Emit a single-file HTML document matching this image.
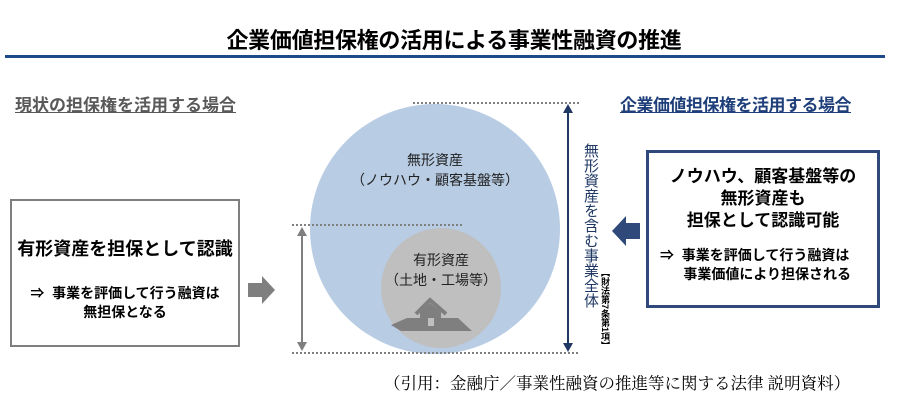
<!DOCTYPE html>
<html><head><meta charset="utf-8"><style>
body{margin:0;width:908px;height:413px;background:#fff;overflow:hidden;position:relative;font-family:"Liberation Sans","Noto Sans CJK JP",sans-serif}
.a{position:absolute;white-space:nowrap}
</style></head><body>
<div class="a" style="left:0;width:908px;top:23px;text-align:center;font-size:22px;font-weight:bold;color:#000;letter-spacing:-0.3px">企業価値担保権の活用による事業性融資の推進</div>
<div class="a" style="left:5px;top:55px;width:880px;height:3px;background:#1f4a8a"></div>
<div class="a" style="left:15px;top:91px;font-size:17px;font-weight:bold;color:#595959;text-decoration:underline">現状の担保権を活用する場合</div>
<div class="a" style="left:620px;top:91px;font-size:17px;font-weight:bold;color:#1f3f7a;text-decoration:underline;letter-spacing:-0.5px">企業価値担保権を活用する場合</div>

<div class="a" style="left:10px;top:199px;width:226px;height:144px;border:2px solid #7f7f7f"></div>
<div class="a" style="left:10px;width:230px;top:235px;text-align:center;font-size:18px;font-weight:bold">有形資産を担保として認識</div>
<div class="a" style="left:10px;width:230px;top:284px;text-align:center;font-size:14px;font-weight:bold;line-height:19px">⇒&nbsp; 事業を評価して行う融資は<br>無担保となる</div>

<div class="a" style="left:646px;top:150px;width:228px;height:152px;border:3px solid #2f4a7a"></div>
<div class="a" style="left:646px;width:234px;top:166px;text-align:center;font-size:17px;font-weight:bold;line-height:22px">ノウハウ、顧客基盤等の<br>無形資産も<br>担保として認識可能</div>
<div class="a" style="left:660px;top:246px;font-size:14px;font-weight:bold;line-height:19px">⇒&nbsp; 事業を評価して行う融資は<br>&nbsp;&nbsp;&nbsp;&nbsp;&nbsp;&nbsp;事業価値により担保される</div>

<svg class="a" style="left:0;top:0" width="908" height="413">
<circle cx="435" cy="229" r="125" fill="#b8cce4"/>
<circle cx="441" cy="288" r="60" fill="#bfbfbf"/>
<g stroke="#7f7f7f" stroke-width="2" stroke-dasharray="2,2">
<line x1="413" y1="103" x2="580" y2="103"/>
<line x1="292" y1="225" x2="462" y2="225"/>
<line x1="292" y1="353" x2="578" y2="353"/>
</g>
<line x1="302" y1="232" x2="302" y2="346" stroke="#7f7f7f" stroke-width="2"/>
<polygon points="302,227 297,236 307,236" fill="#7f7f7f"/>
<polygon points="302,351 297,342 307,342" fill="#7f7f7f"/>
<line x1="568" y1="110" x2="568" y2="346" stroke="#1f3864" stroke-width="2"/>
<polygon points="568,104 563,113 573,113" fill="#1f3864"/>
<polygon points="568,352 563,343 573,343" fill="#1f3864"/>
<polygon points="248,283 262,283 262,276 275,290 262,304 262,297 248,297" fill="#7f7f7f"/>
<polygon points="640,223 626,223 626,216 612,231 626,246 626,239 640,239" fill="#2f4a7a"/>
<polygon points="391,325 407,318 458,318 472,331 401,331" fill="#7f7f7f"/>
<polyline points="416,314 430,300 446,314" fill="none" stroke="#7f7f7f" stroke-width="4"/>
<polygon points="420,312 430,303 441,312 441,326 420,326" fill="#7f7f7f"/>
<rect x="428" y="318" width="6" height="8" fill="#bfbfbf"/>
</svg>

<div class="a" style="left:385px;width:100px;top:150px;text-align:center;font-size:14px;color:#222">無形資産</div>
<div class="a" style="left:335px;width:200px;top:170px;text-align:center;font-size:14px;color:#222">（ノウハウ・顧客基盤等）</div>
<div class="a" style="left:391px;width:100px;top:250px;text-align:center;font-size:14px;color:#222">有形資産</div>
<div class="a" style="left:381px;width:120px;top:270px;text-align:center;font-size:14px;color:#222">（土地・工場等）</div>
<div class="a" style="left:581px;top:143px;font-size:15px;color:#1f3864;writing-mode:vertical-rl;line-height:18px">無形資産を含む事業全体</div>
<div class="a" style="left:600px;top:268px;font-size:9px;font-weight:bold;color:#000;writing-mode:vertical-rl;line-height:10px">【財法第7条第1項】</div>
<div class="a" style="left:384px;top:370px;font-size:16.5px;font-family:'Liberation Serif','Noto Serif CJK SC',serif;color:#000">（引用：金融庁／事業性融資の推進等に関する法律 説明資料）</div>
</body></html>
